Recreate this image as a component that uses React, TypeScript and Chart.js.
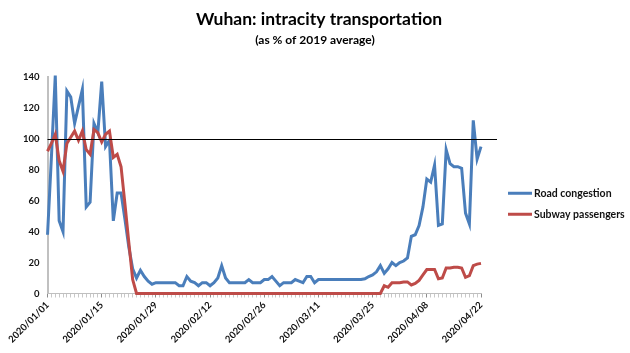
import React, { useEffect, useRef } from 'react';
import { Chart, registerables } from 'chart.js';

Chart.register(...registerables);

const START_DATE = '2020-01-01';
const DAY_COUNT = 113;
const TICK_LABELS = [
  '2020/01/01', '2020/01/15', '2020/01/29', '2020/02/12', '2020/02/26',
  '2020/03/11', '2020/03/25', '2020/04/08', '2020/04/22',
];
const Y_TICKS = [0, 20, 40, 60, 80, 100, 120, 140];
const REFERENCE_LEVEL = 100;
const TITLE = 'Wuhan: intracity transportation';
const SUBTITLE = '(as % of 2019 average)';

const ROAD_CONGESTION = [
  38, 88, 141, 47, 40, 131, 127, 110, 121, 132,
  56, 59, 110, 104, 137, 95, 99, 47, 65, 65,
  48, 30, 16, 10, 15, 11, 8, 6, 7, 7,
  7, 7, 7, 7, 5, 5, 11, 8, 7, 5,
  7, 7, 5, 7, 10, 18, 10, 7, 7, 7,
  7, 7, 9, 7, 7, 7, 9, 9, 11, 8,
  5, 7, 7, 7, 9, 8, 7, 11, 11, 7,
  9, 9, 9, 9, 9, 9, 9, 9, 9, 9,
  9, 9, 9.5, 11, 12, 14, 18, 13, 16, 20,
  18, 20, 21, 23, 37, 38, 44, 56, 74, 72,
  83, 44, 45, 93, 84, 82, 82, 81, 52, 45,
  112, 87, 95,
];

const SUBWAY_PASSENGERS = [
  92, 97, 103, 86, 79, 97, 101, 105, 99, 105,
  93, 90, 106, 104, 98, 103, 105, 88, 90, 82,
  58, 33, 9, 0, 0, 0, 0, 0, 0, 0,
  0, 0, 0, 0, 0, 0, 0, 0, 0, 0,
  0, 0, 0, 0, 0, 0, 0, 0, 0, 0,
  0, 0, 0, 0, 0, 0, 0, 0, 0, 0,
  0, 0, 0, 0, 0, 0, 0, 0, 0, 0,
  0, 0, 0, 0, 0, 0, 0, 0, 0, 0,
  0, 0, 0, 0, 0, 0, 0, 5, 4, 7,
  7, 7, 7.5, 7.5, 5.5, 6.5, 8.5, 12, 15.5, 15.5,
  15.5, 9.5, 10, 16.5, 16.5, 17, 17, 16.5, 10.5, 11.5,
  18, 19, 19.5,
];

const SERIES_NAMES = ['Road congestion', 'Subway passengers'];
const SERIES_COLORS = ['#4A7EBB', '#BE4B48'];

function buildDates(): string[] {
  const out: string[] = [];
  const d = new Date(START_DATE + 'T00:00:00Z');
  for (let i = 0; i < DAY_COUNT; i++) {
    const y = d.getUTCFullYear();
    const m = String(d.getUTCMonth() + 1).padStart(2, '0');
    const day = String(d.getUTCDate()).padStart(2, '0');
    out.push(`${y}/${m}/${day}`);
    d.setUTCDate(d.getUTCDate() + 1);
  }
  return out;
}

const FONT = 'Lato, "Open Sans", sans-serif';

const titlePlugin = {
  id: 'customTitle',
  afterDraw(chart: any) {
    const { ctx, width } = chart;
    ctx.save();
    ctx.fillStyle = '#000';
    ctx.textAlign = 'center';
    ctx.textBaseline = 'alphabetic';
    ctx.font = `bold 17.5px ${FONT}`;
    ctx.fillText(TITLE, width / 2 + 4, 25);
    ctx.font = `bold 12px ${FONT}`;
    ctx.fillText(SUBTITLE, width / 2, 44);
    ctx.restore();
  },
};

const refLinePlugin = {
  id: 'refLine',
  afterDatasetsDraw(chart: any) {
    const { ctx, chartArea, scales } = chart;
    const y = Math.round(scales.y.getPixelForValue(REFERENCE_LEVEL)) + 0.5;
    ctx.save();
    ctx.strokeStyle = '#000';
    ctx.lineWidth = 1;
    ctx.beginPath();
    ctx.moveTo(chartArea.left, y);
    ctx.lineTo(chartArea.right + 16, y);
    ctx.stroke();
    ctx.restore();
  },
};

const legendPlugin = {
  id: 'customLegend',
  afterDraw(chart: any) {
    const { ctx, chartArea } = chart;
    const cx = chartArea.right + 27;
    const cy = (chartArea.top + chartArea.bottom) / 2;
    ctx.save();
    ctx.font = `bold 10.5px ${FONT}`;
    ctx.textBaseline = 'middle';
    ctx.fillStyle = '#111';
    SERIES_NAMES.forEach((name, i) => {
      const y = cy + 8 + i * 21;
      ctx.strokeStyle = SERIES_COLORS[i];
      ctx.lineWidth = 3;
      ctx.beginPath();
      ctx.moveTo(cx, y);
      ctx.lineTo(cx + 24, y);
      ctx.stroke();
      ctx.fillText(name, cx + 26, y);
    });
    ctx.restore();
  },
};

export default function App() {
  const ref = useRef<HTMLCanvasElement | null>(null);
  useEffect(() => {
    if (!ref.current) return;
    const labels = buildDates();
    const chart = new Chart(ref.current, {
      type: 'line',
      data: {
        labels,
        datasets: [
          {
            label: SERIES_NAMES[0],
            data: ROAD_CONGESTION,
            borderColor: SERIES_COLORS[0],
            backgroundColor: SERIES_COLORS[0],
            borderWidth: 3,
            pointRadius: 0,
            tension: 0,
            order: 2,
            clip: 6,
          },
          {
            label: SERIES_NAMES[1],
            data: SUBWAY_PASSENGERS,
            borderColor: SERIES_COLORS[1],
            backgroundColor: SERIES_COLORS[1],
            borderWidth: 3,
            pointRadius: 0,
            tension: 0,
            order: 1,
            clip: 6,
          },
        ],
      },
      options: {
        responsive: false,
        animation: false,
        events: [],
        layout: { padding: { left: 15, right: 149, top: 77, bottom: 6 } },
        plugins: {
          legend: { display: false },
          tooltip: { enabled: false },
          title: { display: false },
        },
        scales: {
          x: {
            type: 'category',
            offset: false,
            grid: {
              display: true,
              drawOnChartArea: false,
              drawTicks: true,
              tickLength: 4,
              tickColor: (c: any) => (TICK_LABELS.includes(labels[c.index]) ? '#8c8c8c' : '#c8c8c8'),
            },
            border: { display: true, color: '#bfbfbf', width: 1 },
            ticks: {
              autoSkip: false,
              maxRotation: 45,
              minRotation: 45,
              padding: 2,
              color: '#111',
              font: { family: FONT, size: 9.5, weight: 'bold' },
              callback: (v: any, i: number) => (TICK_LABELS.includes(labels[i]) ? labels[i] : ''),
            },
          },
          y: {
            min: 0,
            max: 140,
            afterBuildTicks: (axis: any) => {
              axis.ticks = Y_TICKS.map((v) => ({ value: v }));
            },
            grid: { display: false, drawTicks: false },
            border: { display: true, color: '#c0c0c0', width: 2 },
            ticks: {
              padding: 8,
              color: '#111',
              font: { family: FONT, size: 9.5, weight: 'bold' },
            },
          },
        },
      },
      plugins: [refLinePlugin, legendPlugin, titlePlugin],
    } as any);
    return () => chart.destroy();
  }, []);

  return (
    <div style={{ position: 'absolute', left: 0, top: 0, width: 630, height: 353, background: '#fff' }}>
      <canvas ref={ref} width={630} height={353} />
    </div>
  );
}
